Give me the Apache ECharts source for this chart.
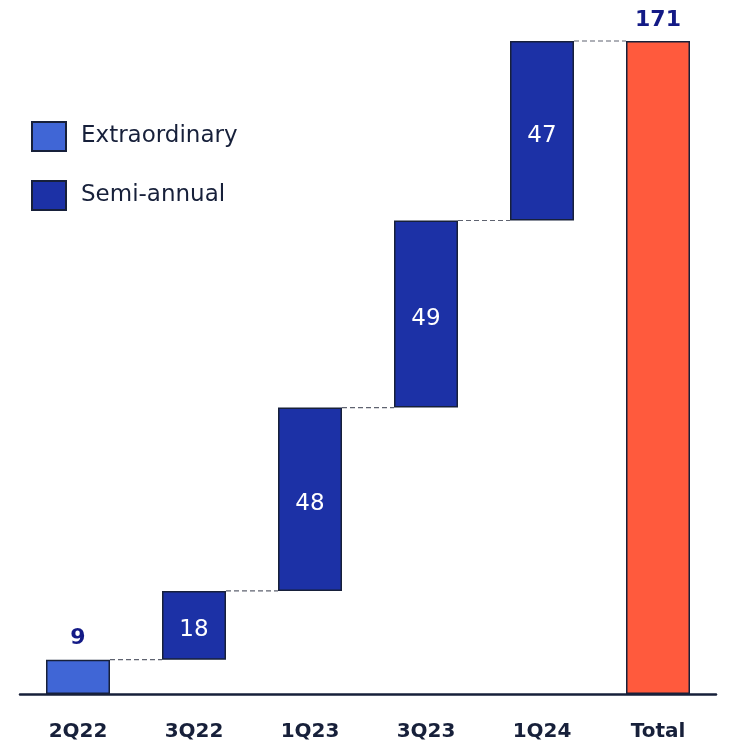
<!DOCTYPE html>
<html>
<head>
<meta charset="utf-8">
<script src="https://cdn.jsdelivr.net/npm/echarts@6/dist/echarts.min.js"></script>
<style>
  html, body { margin: 0; padding: 0; background: #fff; }
  #chart { width: 730px; height: 749px; }
</style>
</head>
<body>
<div id="chart"></div>
<script>
// Buyback waterfall: quarterly amounts stacked up to the cumulative total
const categories = ['2Q22', '3Q22', '1Q23', '3Q23', '1Q24', 'Total'];
const extraordinary = [9, null, null, null, null, null];
const semiAnnual = [null, 18, 48, 49, 47, null];
const total = [null, null, null, null, null, 171];

// Invisible offsets so each step starts where the previous one ended
const steps = categories.map((_, i) => (extraordinary[i] || 0) + (semiAnnual[i] || 0));
const base = [];
const levels = [];
let running = 0;
categories.forEach((_, i) => {
  if (total[i] != null) { base.push(0); levels.push(total[i]); return; }
  base.push(running);
  running += steps[i];
  levels.push(running);
});

const NAVY = '#17203a';
const FONT = '"DejaVu Sans", sans-serif';
const BAR_W = 64;

const chart = echarts.init(document.getElementById('chart'), null, { renderer: 'canvas' });

const connectorData = [];
for (let i = 0; i < categories.length - 1; i++) connectorData.push([i, levels[i]]);

chart.setOption({
  animation: false,
  backgroundColor: '#ffffff',
  grid: { left: 20, right: 14, top: 41, bottom: 55 },
  legend: {
    orient: 'vertical',
    left: 26,
    top: 116,
    itemWidth: 34,
    itemHeight: 29,
    itemGap: 28,
    icon: 'rect',
    data: ['Extraordinary', 'Semi-annual'],
    textStyle: { fontFamily: FONT, fontSize: 23, color: NAVY, padding: [0, 0, 0, 10] }
  },
  xAxis: {
    type: 'category',
    data: categories,
    axisLine: { lineStyle: { color: NAVY, width: 2.5 } },
    axisTick: { show: false },
    axisLabel: { margin: 28, fontFamily: FONT, fontSize: 20, fontWeight: 'bold', color: NAVY }
  },
  yAxis: { type: 'value', min: 0, max: 171, show: false, splitLine: { show: false } },
  series: [
    {
      name: 'base', type: 'bar', stack: 'wf', barWidth: BAR_W, silent: true,
      itemStyle: { color: 'transparent' }, data: base
    },
    {
      name: 'Extraordinary', type: 'bar', stack: 'wf', barWidth: BAR_W,
      itemStyle: { color: '#4066d6', borderColor: NAVY, borderWidth: 1.5 },
      label: { show: true, position: 'top', distance: 10, fontFamily: FONT, fontSize: 22, fontWeight: 'bold', color: '#131a86' },
      data: extraordinary
    },
    {
      name: 'Semi-annual', type: 'bar', stack: 'wf', barWidth: BAR_W,
      itemStyle: { color: '#1c31a6', borderColor: NAVY, borderWidth: 1.5 },
      label: { show: true, position: 'inside', offset: [0, 5], fontFamily: FONT, fontSize: 23, color: '#ffffff' },
      data: semiAnnual
    },
    {
      name: 'Total', type: 'bar', stack: 'wf', barWidth: BAR_W,
      itemStyle: { color: '#ff5a3d', borderColor: NAVY, borderWidth: 1.5 },
      label: { show: true, position: 'top', distance: 10, fontFamily: FONT, fontSize: 22, fontWeight: 'bold', color: '#131a86' },
      data: total
    },
    {
      name: 'connectors', type: 'custom', silent: true, z: 1,
      renderItem: function (params, api) {
        const i = api.value(0);
        const p0 = api.coord([i, api.value(1)]);
        const p1 = api.coord([i + 1, api.value(1)]);
        const half = BAR_W / 2;
        return {
          type: 'line',
          shape: { x1: p0[0] + half, y1: p0[1], x2: p1[0] - half, y2: p1[1] },
          style: { stroke: '#5f6370', lineWidth: 1.2, lineDash: [5, 3] }
        };
      },
      data: connectorData
    }
  ]
});
</script>
</body>
</html>
